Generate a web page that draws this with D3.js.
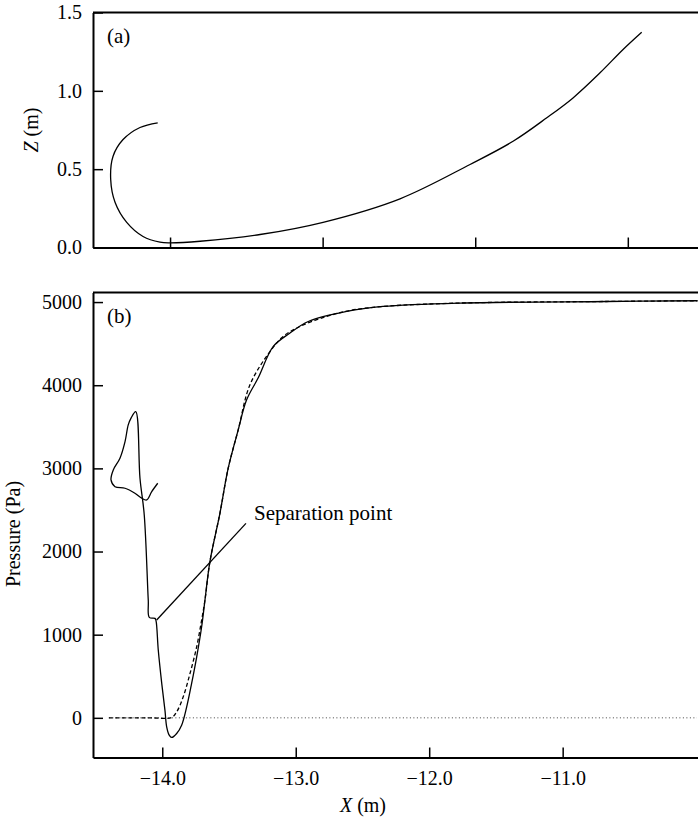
<!DOCTYPE html>
<html>
<head>
<meta charset="utf-8">
<script src="https://cdn.jsdelivr.net/npm/d3@7"></script>
<style>
  body { margin: 0; background: #fff; }
  svg { display: block; }
  text { font-family: "Liberation Serif", "DejaVu Serif", serif; fill: #000; }
</style>
</head>
<body>
<div id="chart"></div>
<script>
// panel (a): trajectory of the body, X (m) vs Z (m)
var trajX = [-14.081, -14.197, -14.308, -14.374, -14.389, -14.360, -14.284, -14.177, -14.066, -14.0,
    -13.803, -13.410, -12.997, -12.493, -12.034, -11.752, -11.531,
    -11.359, -11.182, -11.031, -10.909];
var trajZ = [0.796, 0.766, 0.689, 0.581, 0.434, 0.287, 0.160, 0.070, 0.034, 0.030,
    0.040, 0.083, 0.161, 0.311, 0.530, 0.678, 0.828,
    0.955, 1.115, 1.264, 1.374];

// panel (b): pressure, solid curve
var solidX = [-14.034, -14.079, -14.117, -14.154, -14.205, -14.279, -14.354, -14.384, -14.367, -14.317,
    -14.279, -14.255, -14.234, -14.199, -14.167, -14.135, -14.105, -14.097, -14.055, -14.047,
    -14.030, -14.004, -13.980, -13.967, -13.948, -13.930, -13.892, -13.855, -13.817, -13.780,
    -13.742, -13.705, -13.680, -13.643, -13.568, -13.506, -13.431, -13.368, -13.281, -13.168,
    -13.043, -12.906, -12.618, -12.346, -11.769, -10.670, -9.99];
var solidP = [2821, 2720, 2620, 2641, 2701, 2761, 2780, 2861, 2981, 3122,
    3322, 3523, 3604, 3683, 2882, 2440, 1417, 1208, 1196, 1168,
    815, 414, 93, -108, -208, -236, -188, -88, 132, 414,
    734, 1095, 1417, 1878, 2460, 3002, 3463, 3824, 4089, 4466,
    4627, 4766, 4887, 4947, 4988, 5007, 5016];

// panel (b): pressure, dashed curve
var dashX = [-14.40, -14.10, -13.930, -13.892, -13.843, -13.792, -13.742, -13.705, -13.680, -13.643,
    -13.568, -13.506, -13.431, -13.343, -13.193, -13.094, -12.969, -12.768, -12.594, -12.346,
    -11.769, -10.670, -9.99];
var dashP = [0, 0, 5, 72, 253, 534, 855, 1176, 1417, 1878,
    2460, 3002, 3463, 4005, 4405, 4586, 4706, 4827, 4899, 4947,
    4988, 5007, 5016];

var zTicks = [0, 0.5, 1.0, 1.5];
var xTicks = [-14, -13, -12, -11];
var pTicks = [0, 1000, 2000, 3000, 4000, 5000];

// separation point marker (data units)
var sepFrom = [-14.042, 1176];
var sepTo = [-13.373, 2339];

var width = 698, height = 818;

var svg = d3.select("#chart").append("svg")
    .attr("width", width)
    .attr("height", height);

var fmt1 = function(d) { return d3.format(".1f")(d).replace("-", "\u2212"); };

// ---------- panel (a)
var xa = d3.scaleLinear().domain([-14.505, -10.54]).range([93, 698]);
var za = d3.scaleLinear().domain([0, 1.5]).range([247.5, 12.5]);

var ga = svg.append("g");

ga.append("line")
    .attr("x1", 93).attr("x2", 698)
    .attr("y1", 12.5).attr("y2", 12.5)
    .attr("stroke", "#000").attr("stroke-width", 2);

ga.append("g")
    .attr("transform", "translate(93,0)")
    .call(d3.axisLeft(za).tickValues(zTicks).tickFormat(d3.format(".1f"))
        .tickSizeInner(-10).tickSizeOuter(0).tickPadding(11));

ga.append("g")
    .attr("transform", "translate(0,247.5)")
    .call(d3.axisBottom(xa).tickValues(xTicks).tickFormat("")
        .tickSizeInner(-10).tickSizeOuter(0));

ga.append("path")
    .datum(d3.range(trajX.length))
    .attr("fill", "none")
    .attr("stroke", "#000")
    .attr("stroke-width", 1.3)
    .attr("d", d3.line()
        .x(function(i) { return xa(trajX[i]); })
        .y(function(i) { return za(trajZ[i]); })
        .curve(d3.curveCatmullRom));

ga.append("text")
    .attr("x", 107).attr("y", 43)
    .attr("font-size", 21)
    .text("(a)");

var zl = ga.append("text")
    .attr("transform", "translate(38,130) rotate(-90)")
    .attr("text-anchor", "middle")
    .attr("font-size", 20);
zl.append("tspan").attr("font-style", "italic").text("Z");
zl.append("tspan").text(" (m)");

// ---------- panel (b)
var xb = d3.scaleLinear().domain([-14.519, -9.986]).range([93, 698]);
var pb = d3.scaleLinear().domain([-477, 5115]).range([757.5, 292.5]);

var gb = svg.append("g");

gb.append("line")
    .attr("x1", 93).attr("x2", 698)
    .attr("y1", 292.5).attr("y2", 292.5)
    .attr("stroke", "#000").attr("stroke-width", 2);

gb.append("g")
    .attr("transform", "translate(93,0)")
    .call(d3.axisLeft(pb).tickValues(pTicks).tickFormat(d3.format("d"))
        .tickSizeInner(-10).tickSizeOuter(0).tickPadding(11));

gb.append("g")
    .attr("transform", "translate(0,757.5)")
    .call(d3.axisBottom(xb).tickValues(xTicks).tickFormat(fmt1)
        .tickSizeInner(-10).tickSizeOuter(0).tickPadding(13));

// zero reference line
gb.append("line")
    .attr("x1", xb(-14.40)).attr("x2", 697)
    .attr("y1", pb(0)).attr("y2", pb(0))
    .attr("stroke", "#444")
    .attr("stroke-width", 1)
    .attr("stroke-dasharray", "1,2.5");

var lineB = function(xs, ps) {
    return d3.line()
        .x(function(i) { return xb(xs[i]); })
        .y(function(i) { return pb(ps[i]); })
        .curve(d3.curveCatmullRom)(d3.range(xs.length));
};

gb.append("path")
    .attr("fill", "none")
    .attr("stroke", "#000")
    .attr("stroke-width", 1.3)
    .attr("stroke-dasharray", "4,2.5")
    .attr("d", lineB(dashX, dashP));

gb.append("path")
    .attr("fill", "none")
    .attr("stroke", "#000")
    .attr("stroke-width", 1.3)
    .attr("d", lineB(solidX, solidP));

gb.append("line")
    .attr("x1", xb(sepFrom[0])).attr("y1", pb(sepFrom[1]))
    .attr("x2", xb(sepTo[0])).attr("y2", pb(sepTo[1]))
    .attr("stroke", "#000").attr("stroke-width", 1.3);

gb.append("text")
    .attr("x", 254).attr("y", 520)
    .attr("font-size", 21)
    .text("Separation point");

gb.append("text")
    .attr("x", 107).attr("y", 323)
    .attr("font-size", 21)
    .text("(b)");

gb.append("text")
    .attr("transform", "translate(20,534) rotate(-90)")
    .attr("text-anchor", "middle")
    .attr("font-size", 20)
    .text("Pressure (Pa)");

var xl = gb.append("text")
    .attr("x", 363).attr("y", 812)
    .attr("text-anchor", "middle")
    .attr("font-size", 20);
xl.append("tspan").attr("font-style", "italic").text("X");
xl.append("tspan").text(" (m)");

// axis styling
svg.selectAll(".domain").attr("stroke", "#000").attr("stroke-width", 2);
svg.selectAll(".tick line").attr("stroke", "#000").attr("stroke-width", 1.5);
svg.selectAll(".tick text")
    .attr("font-size", 20)
    .attr("fill", "#000");
</script>
</body>
</html>
